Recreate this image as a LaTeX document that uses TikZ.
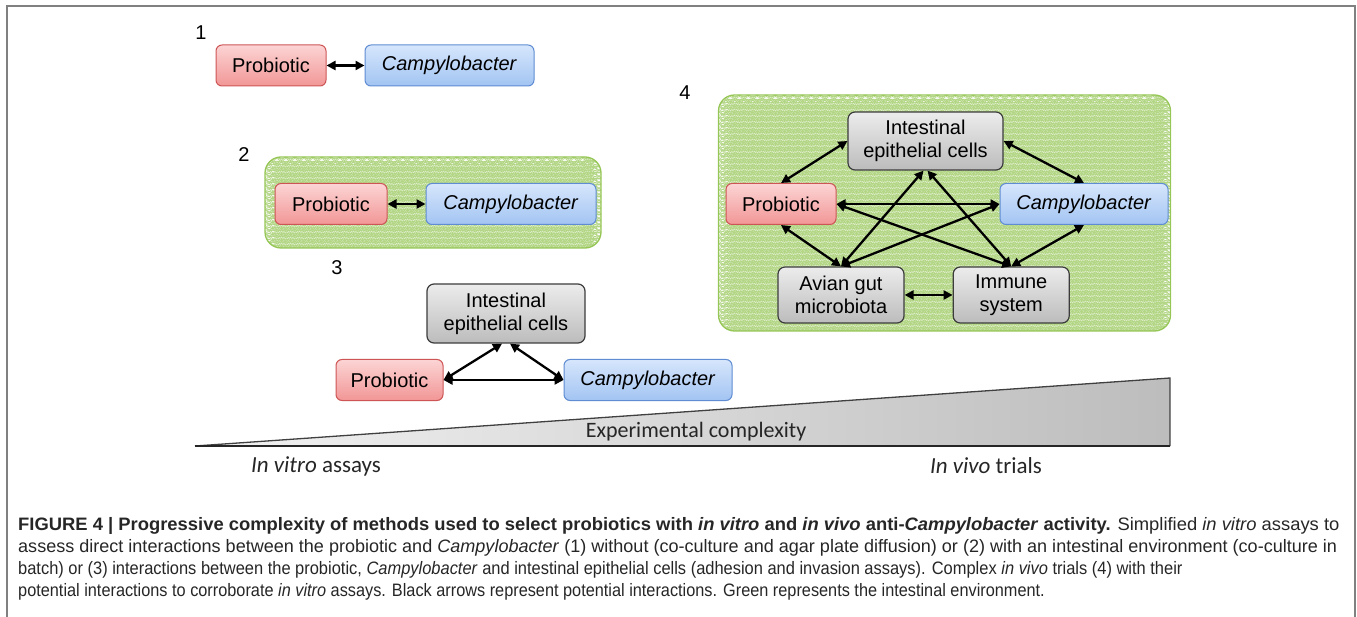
\documentclass[tikz,border=0pt]{standalone}
\usepackage{fontspec}
\setmainfont{Liberation Sans}
\newfontfamily\calfont{Carlito}
\newfontfamily\capfont[FakeStretch=0.95]{Liberation Sans}
\usetikzlibrary{arrows.meta, positioning, decorations.pathmorphing}
\definecolor{probedge}{RGB}{205,85,85}
\definecolor{probtop}{RGB}{252,212,212}
\definecolor{probbot}{RGB}{242,150,150}
\definecolor{campyedge}{RGB}{95,140,210}
\definecolor{campytop}{RGB}{214,230,252}
\definecolor{campybot}{RGB}{162,196,242}
\definecolor{celledge}{RGB}{60,60,60}
\definecolor{celltop}{RGB}{236,236,236}
\definecolor{cellbot}{RGB}{188,188,188}
\definecolor{envgreen}{RGB}{150,198,86}
\definecolor{wavegreen}{RGB}{178,214,132}
\tikzset{
  boxfont/.style = {font=\fontsize{20}{23}\selectfont},
  prob/.style    = {rectangle, rounded corners=6pt, draw=probedge, line width=1pt,
                    top color=probtop, bottom color=probbot, minimum height=41pt, boxfont},
  campy/.style   = {rectangle, rounded corners=6pt, draw=campyedge, line width=1pt,
                    top color=campytop, bottom color=campybot, minimum height=41pt, boxfont},
  cell/.style    = {rectangle, rounded corners=7pt, draw=celledge, line width=1.2pt,
                    top color=celltop, bottom color=cellbot, align=center, boxfont},
  env/.style     = {rectangle, rounded corners=16pt, draw=envgreen, line width=1.3pt,
                    fill=white,
                    path picture={
                      \foreach \k in {0,...,42}
                        \draw[wavegreen, line width=0.45pt, decorate,
                              decoration={snake, segment length=9pt, amplitude=1.2pt}]
                          ([yshift=-\k*6pt-3pt]path picture bounding box.north west)
                          -- ([yshift=-\k*6pt-3pt]path picture bounding box.north east);
                    }},
  numlab/.style  = {boxfont},
  flow/.style    = {{Triangle[length=9pt,width=9pt]}-{Triangle[length=9pt,width=9pt]},
                    line width=2.3pt},
  wedgetext/.style = {font=\calfont\fontsize{22}{26}\selectfont, text=black!85},
  captext/.style = {anchor=base west, inner sep=0pt, text=black!85,
                    font=\capfont\fontsize{18}{22}\selectfont}
}
\begin{document}
\begin{tikzpicture}[x=1pt, y=-1pt]
  \useasboundingbox (0,0) rectangle (1357,617);
  \draw[black!50, line width=2pt] (7,617) -- (7,6) -- (1355,6) -- (1355,617);

  % 1: direct contact
  \node[numlab] (n1) at (201,33) {1};
  \node[prob, minimum width=110pt] (prob1) at (271,65.5) {Probiotic};
  \node[campy, minimum width=169pt, right=38pt of prob1] (campy1) {\textit{Campylobacter}};
  \draw[flow] (prob1) -- (campy1);

  % 2: with intestinal environment
  \node[numlab] (n2) at (244,155) {2};
  \node[env, minimum width=336pt, minimum height=91pt] (env2) at (433,202.5) {};
  \node[prob, minimum width=112pt] (prob2) at (331,204) {Probiotic};
  \node[campy, minimum width=170pt, right=38pt of prob2] (campy2) {\textit{Campylobacter}};
  \draw[flow] (prob2) -- (campy2);

  % 3: with epithelial cells
  \node[numlab] (n3) at (337,268) {3};
  \node[cell, minimum width=158pt, minimum height=59pt] (iec3) at (506,313.5)
       {Intestinal\\epithelial cells};
  \node[prob, minimum width=107pt] (prob3) at (389.5,380) {Probiotic};
  \node[campy, minimum width=168pt, right=120pt of prob3] (campy3) {\textit{Campylobacter}};
  \draw[flow] (prob3.east) -- ([xshift=-4pt]iec3.south);
  \draw[flow] ([xshift=4pt]iec3.south) -- (campy3.west);
  \draw[flow] (prob3.east) -- (campy3.west);

  % 4: in vivo
  \node[numlab] (n4) at (685,93) {4};
  \node[env, minimum width=452pt, minimum height=236pt] (env4) at (944.5,213) {};
  \node[cell, minimum width=155pt, minimum height=58pt] (iec4) at (925.5,141)
       {Intestinal\\epithelial cells};
  \node[prob, minimum width=110pt] (prob4) at (781,204) {Probiotic};
  \node[campy, minimum width=168pt] (campy4) at (1084,204) {\textit{Campylobacter}};
  \node[cell, minimum width=126pt, minimum height=56pt] (avian4) at (841,295)
       {Avian gut\\microbiota};
  \node[cell, minimum width=116pt, minimum height=56pt, right=48pt of avian4] (immune4)
       {Immune\\system};
  \draw[flow] (prob4.north) -- (iec4.west);
  \draw[flow] (iec4.east) -- (campy4.north);
  \draw[flow] (prob4.east) -- (campy4.west);
  \draw[flow] (prob4.east) -- (immune4.north);
  \draw[flow] (avian4.north) -- (campy4.west);
  \draw[flow] (avian4.north) -- ([xshift=-2pt]iec4.south);
  \draw[flow] (immune4.north) -- ([xshift=2pt]iec4.south);
  \draw[flow] (prob4.south) -- (avian4.north);
  \draw[flow] (campy4.south) -- (immune4.north);
  \draw[flow] (avian4.east) -- (immune4.west);

  % complexity wedge
  \coordinate (wedgeL) at (195,446);
  \coordinate (wedgeT) at (1170,378);
  \coordinate (wedgeR) at (1170,446);
  \shade[left color=gray!10, right color=gray!52] (wedgeL) -- (wedgeT) -- (wedgeR) -- cycle;
  \draw[black!75, line width=1.3pt] (wedgeL) -- (wedgeT) -- (wedgeR);
  \draw[black!85, line width=2pt] (wedgeL) -- (wedgeR);
  \node[wedgetext] (complexity) at (696,432) {Experimental complexity};
  \node[wedgetext, font=\calfont\fontsize{23}{26}\selectfont] (vitro) at (316,466) {\textit{In vitro} assays};
  \node[wedgetext, font=\calfont\fontsize{23}{26}\selectfont] (vivo) at (986,466) {\textit{In vivo} trials};

  % caption
  \node[captext] (cap1) at (18,530) {\scalebox{1.076}[1]{\textbf{FIGURE 4 | Progressive complexity of methods used to select probiotics with \textit{in vitro} and \textit{in vivo} anti-\textit{Campylobacter} activity.} Simplified \textit{in vitro} assays to}};
  \node[captext] (cap2) at (18,552) {\scalebox{1.055}[1]{assess direct interactions between the probiotic and \textit{Campylobacter} (1) without (co-culture and agar plate diffusion) or (2) with an intestinal environment (co-culture in}};
  \node[captext] (cap3) at (18,574) {\scalebox{0.962}[1]{batch) or (3) interactions between the probiotic, \textit{Campylobacter} and intestinal epithelial cells (adhesion and invasion assays). Complex \textit{in vivo} trials (4) with their}};
  \node[captext] (cap4) at (18,596) {\scalebox{0.953}[1]{potential interactions to corroborate \textit{in vitro} assays. Black arrows represent potential interactions. Green represents the intestinal environment.}};
\end{tikzpicture}
\end{document}
